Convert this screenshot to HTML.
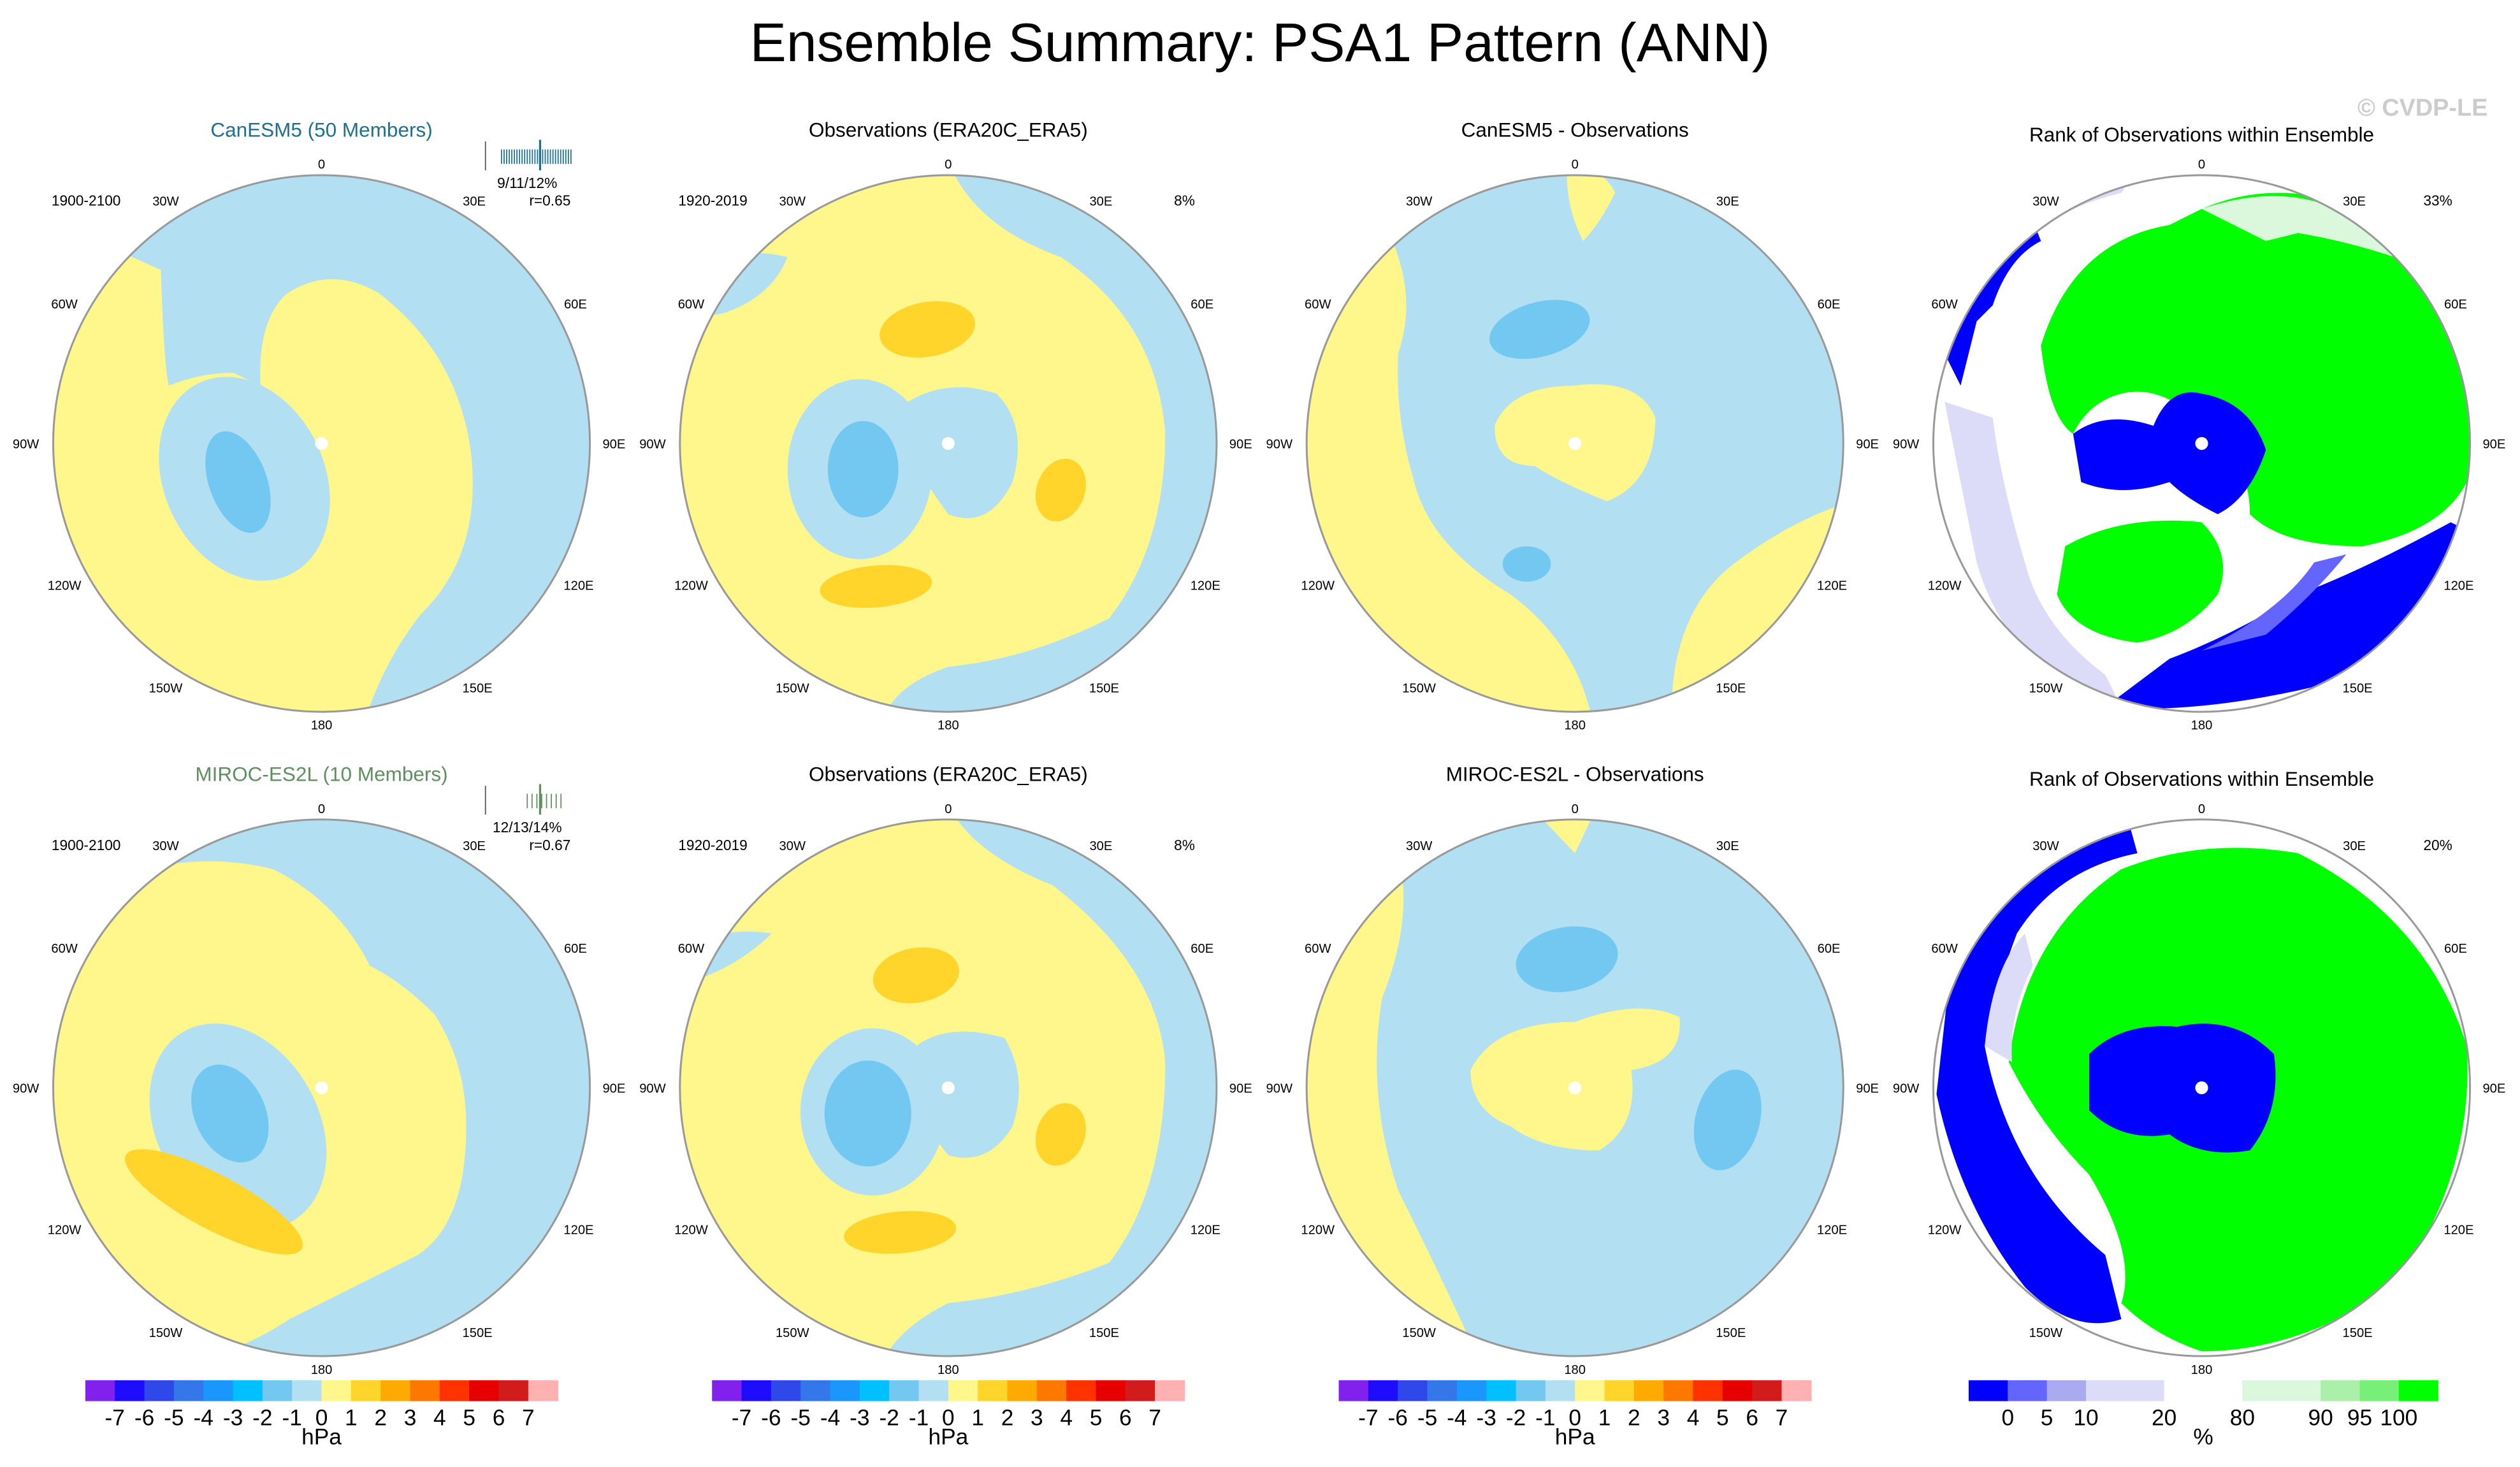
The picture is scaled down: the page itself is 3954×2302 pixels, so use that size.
<!DOCTYPE html>
<html><head><meta charset="utf-8"><style>
html,body{margin:0;padding:0;background:#fff}
svg{display:block;font-family:"Liberation Sans",sans-serif}
</style></head><body>
<svg id="fig" width="3954" height="2302" viewBox="0 0 1568 913" xmlns="http://www.w3.org/2000/svg">
<defs><clipPath id="disk"><circle cx="200" cy="276" r="167"/></clipPath></defs>
<text x="784" y="38" font-size="34" text-anchor="middle">Ensemble Summary: PSA1 Pattern (ANN)</text>
<text x="1548" y="72" font-size="15" fill="#ccc" text-anchor="end" font-weight="bold">© CVDP-LE</text>
<g id="panels"></g>
<g id="bars"></g>
</svg>
<script>
const NS='http://www.w3.org/2000/svg';
const svg=document.getElementById('fig');
const panelsG=document.getElementById('panels');
const barsG=document.getElementById('bars');
const levels=[-7,-6,-5,-4,-3,-2,-1,0,1,2,3,4,5,6,7];
const levelColors=['#8220ee','#1e0cff','#2f48ea','#3477ea','#1a96ff','#00c0ff','#73c8f2','#b3dff2','#fff68c','#ffd52b','#ffaa00','#ff7800','#ff3200','#e60000','#d21c1c','#ffb0b0'];
const rankLabels=['0','5','10','20','80','90','95','100'];
const rankColors=['#0000ff','#6464ff','#aaaaf0','#dcdcf8','#ffffff','#dcf8dc','#aaf0aa','#78f078','#00ff00'];
const rankWidths=[1,1,1,2,2,2,1,1,1];
const lonLabels=['0','30E','60E','90E','120E','150E','180','150W','120W','90W','60W','30W'];
const LB='#b3dff2',Y='#fff68c',DB='#73c8f2',DY='#ffd52b',BL='#0000ff',GR='#00ff00',LV='#dcdcf8',MB='#6464ff';
function mk(tag,attrs,parent){const e=document.createElementNS(NS,tag);for(const k in attrs)e.setAttribute(k,attrs[k]);parent.appendChild(e);return e;}
const panels=[
 {dx:0,dy:0,title:'CanESM5 (50 Members)',tc:'#1f6f8f',period:'1900-2100',stats:['9/11/12%','r=0.65'],base:Y,shapes:[
  ['p',LB,'M60,150 L100,168 Q102,230 105,240 Q125,232 145,232 L162,240 Q160,200 178,183 Q205,165 235,182 Q285,220 293,282 Q300,345 262,382 Q240,410 228,445 L400,445 L400,100 L0,100 L0,150 Z'],
  ['e',LB,152,298,50,66,-25],['e',DB,148,300,18,33,-20]]},
 {dx:390,dy:0,title:'Observations (ERA20C_ERA5)',period:'1920-2019',pct:'8%',base:Y,shapes:[
  ['p',LB,'M200,100 Q215,140 270,160 Q330,200 335,270 Q335,340 300,385 Q250,410 200,415 Q170,425 160,445 L400,445 L400,100 Z'],
  ['p',LB,'M30,180 Q60,150 100,160 Q90,185 60,195 Q40,200 30,180 Z'],
  ['e',LB,145,292,45,56,0],['e',DB,147,292,22,30,0],
  ['p',LB,'M175,250 Q200,235 230,245 Q250,265 240,300 Q225,330 200,320 Q185,300 175,280 Z'],
  ['e',DY,187,205,30,17,-10],['e',DY,270,305,15,20,20],['e',DY,155,365,35,13,-5]]},
 {dx:780,dy:0,title:'CanESM5 - Observations',base:LB,shapes:[
  ['p',Y,'M0,100 L70,100 L90,160 Q100,190 90,220 Q88,260 100,300 Q110,340 160,370 Q200,400 210,445 L0,445 Z'],
  ['p',Y,'M195,109 Q215,100 225,120 Q215,140 205,150 Q195,130 195,109 Z'],
  ['p',Y,'M150,265 Q160,240 200,240 Q240,235 250,260 Q250,300 220,312 Q190,300 175,290 Q150,290 150,265 Z'],
  ['p',Y,'M260,445 Q260,380 300,350 Q340,320 380,310 L400,445 Z'],
  ['e',DB,178,205,32,17,-15],['e',DB,170,351,15,11,0]]},
 {dx:0,dy:401,title:'MIROC-ES2L (10 Members)',tc:'#5f8f5f',period:'1900-2100',stats:['12/13/14%','r=0.67'],base:LB,shapes:[
  ['p',Y,'M0,100 L0,445 L120,445 Q150,440 180,420 Q220,400 260,380 Q290,360 290,300 Q290,260 270,230 Q250,210 230,200 Q210,160 170,140 Q130,130 90,140 L60,130 Z'],
  ['e',LB,148,300,50,68,-30],['e',DB,143,292,22,32,-25],['e',DY,133,347,62,17,28]]},
 {dx:390,dy:401,title:'Observations (ERA20C_ERA5)',period:'1920-2019',pct:'8%',base:Y,shapes:[
  ['p',LB,'M200,100 Q215,130 265,150 Q330,200 335,260 Q335,340 300,385 Q250,405 200,410 Q170,425 160,445 L400,445 L400,100 Z'],
  ['p',LB,'M30,190 Q60,175 90,180 Q70,200 40,210 Z'],
  ['e',LB,153,291,45,52,0],['e',DB,150,292,27,33,0],
  ['p',LB,'M180,250 Q200,235 235,245 Q250,270 240,300 Q225,325 200,318 Q185,300 180,280 Z'],
  ['e',DY,180,206,27,17,-10],['e',DY,270,305,15,20,20],['e',DY,170,366,35,13,-5]]},
 {dx:780,dy:401,title:'MIROC-ES2L - Observations',base:LB,shapes:[
  ['p',Y,'M0,100 L60,100 L90,130 Q100,170 80,220 Q70,280 90,340 Q120,400 140,445 L0,445 Z'],
  ['p',Y,'M180,109 L210,109 L200,130 Z'],
  ['p',Y,'M135,265 Q150,235 200,235 Q240,220 265,232 Q268,260 235,265 Q240,300 215,315 Q180,315 160,300 Q135,290 135,265 Z'],
  ['e',DB,195,196,32,20,-10],['e',DB,295,296,20,32,15]]}
];
const rankPanels=[
 {dx:1170,dy:0,pct:'33%',shapes:[
  ['p',GR,'M100,215 Q120,150 180,140 L200,130 Q270,100 350,160 Q380,220 365,300 Q350,330 300,340 Q250,340 230,320 Q230,290 210,280 Q205,260 190,255 Q170,240 150,245 Q130,250 120,270 Q105,260 100,215 Z'],
  ['p','#dcf8dc','M200,130 Q260,110 300,140 L320,160 Q290,150 260,145 L240,150 Z'],
  ['p',BL,'M30,200 Q50,140 90,125 L100,150 Q80,160 70,190 L60,200 L50,240 Z'],
  ['p',LV,'M70,125 Q100,100 160,105 L150,120 Q110,130 90,150 Z'],
  ['p',LV,'M40,250 Q50,300 60,350 Q80,420 150,440 L140,420 Q100,390 90,350 Q75,300 70,260 Z'],
  ['p',BL,'M120,270 Q140,255 170,265 Q180,240 200,245 Q230,250 240,280 Q230,310 210,320 Q190,310 180,300 Q150,310 125,300 Z'],
  ['p',GR,'M115,340 Q150,320 200,325 Q220,345 210,370 Q190,395 160,400 Q120,395 110,370 Z'],
  ['p',BL,'M140,440 Q200,445 280,425 Q340,395 365,330 L355,325 Q300,355 260,370 Q220,395 180,410 Z'],
  ['p',MB,'M200,405 Q250,380 270,350 L290,345 Q270,370 240,395 Z']]},
 {dx:1170,dy:401,pct:'20%',shapes:[
  ['p',GR,'M80,260 Q90,180 150,140 Q200,120 260,130 Q340,170 365,250 Q370,330 320,400 Q260,440 200,440 Q170,430 150,410 Q160,380 130,330 Q100,300 80,260 Z'],
  ['p',BL,'M45,190 Q80,130 155,112 L160,130 Q110,140 85,180 Q70,220 65,250 Q80,330 140,380 L150,420 Q120,430 90,400 Q50,350 35,280 Z'],
  ['p',LV,'M65,250 Q70,200 90,180 L95,200 Q80,230 82,260 Z'],
  ['p',BL,'M130,255 Q150,235 185,238 Q220,230 245,255 Q250,290 230,315 Q200,320 180,305 Q150,310 130,290 Z']]}
];
const labelOffX=[0,95,158,182,160,97,0,-97,-160,-184,-160,-97];
const labelOffY=[-174,-151,-87,0,88,152,175,152,88,0,-87,-151];
function drawMapFrame(g,cx,cy,dx,dy,name){
 mk('circle',{cx:200,cy:276,r:167,fill:'none',stroke:'#999','stroke-width':1.2,},g);
 mk('circle',{cx:200,cy:276,r:4,fill:'#fff',},g);
 lonLabels.forEach((l,i)=>{const t=mk('text',{x:200+labelOffX[i],y:276+labelOffY[i]+3,'font-size':8,'text-anchor':'middle'},g);
  
  
  t.textContent=l;});
}
function drawShapes(g,shapes,name){
 shapes.forEach((s,k)=>{let e;
  if(s[0]==='p')e=mk('path',{d:s[2],fill:s[1]},g);
  else e=mk('ellipse',{cx:s[2],cy:s[3],rx:s[4],ry:s[5],fill:s[1],transform:`rotate(${s[6]} ${s[2]} ${s[3]})`},g);
  
  });
}
panels.concat(rankPanels).forEach((P,idx)=>{
 const isRank=idx>=panels.length;
 const name=isRank?'rank-panel-'+(idx-panels.length+1):'map-panel-'+(idx+1);
 const g=mk('g',{transform:`translate(${P.dx},${P.dy})`},panelsG);
 
 
 const inner=mk('g',{'clip-path':'url(#disk)'},g);
 mk('circle',{cx:200,cy:276,r:167,fill:isRank?'#fff':P.base},inner);
 drawShapes(inner,P.shapes,name);
 drawMapFrame(g,200,276,P.dx,P.dy,name);
 const tt=mk('text',{x:200,y:isRank?88:85,'font-size':12.5,'text-anchor':'middle',fill:P.tc||'#000'},g);
 
 
 tt.textContent=isRank?'Rank of Observations within Ensemble':P.title;
 if(P.period){const t=mk('text',{x:32,y:128,'font-size':9},g);t.textContent=P.period;}
 if(P.pct){const t=mk('text',{x:347,y:128,'font-size':9,'text-anchor':'middle'},g);t.textContent=P.pct;}
 if(P.stats){
  const t1=mk('text',{x:328,y:117,'font-size':9,'text-anchor':'middle'},g);t1.textContent=P.stats[0];
  const t2=mk('text',{x:355,y:128,'font-size':9,'text-anchor':'end'},g);t2.textContent=P.stats[1];
  const sg=mk('g',{stroke:P.tc,'stroke-width':0.7},g);
  mk('line',{x1:302,y1:88,x2:302,y2:106,stroke:'#555'},sg);
  for(let k=0;k<(idx===0?28:8);k++){const x=idx===0?312+k*1.6:328+k*3;mk('line',{x1:x,y1:93,x2:x,y2:102},sg);}
  mk('line',{x1:336,y1:87,x2:336,y2:106,'stroke-width':1.3},sg);
 }
});
function hpaBar(x0,y0,i){
 const g=mk('g',{},barsG);
 const w=294/levelColors.length;
 levelColors.forEach((c,k)=>{const r=mk('rect',{x:x0+k*w,y:y0,width:w+0.3,height:13,fill:c},g);});
 levels.forEach((v,k)=>{const t=mk('text',{x:x0+(k+1)*w,y:y0+28,'font-size':14,'text-anchor':'middle'},g);t.textContent=v;});
 const u=mk('text',{x:x0+147,y:y0+40,'font-size':14,'text-anchor':'middle'},g);u.textContent='hPa';
}
[53,443,833].forEach((x,i)=>hpaBar(x,859,i+1));
(function(){
 const g=mk('g',{},barsG);
 const unit=292/rankWidths.reduce((a,b)=>a+b,0);let x=1225;const bounds=[];
 rankColors.forEach((c,k)=>{const w=rankWidths[k]*unit;const r=mk('rect',{x:x,y:859,width:w+0.3,height:13,fill:c},g);x+=w;bounds.push(x);});
 rankLabels.forEach((l,k)=>{const t=mk('text',{x:bounds[k],y:887,'font-size':14,'text-anchor':'middle'},g);t.textContent=l;});
 const u=mk('text',{x:1371,y:899,'font-size':14,'text-anchor':'middle'},g);u.textContent='%';
})();
</script>
</body></html>
